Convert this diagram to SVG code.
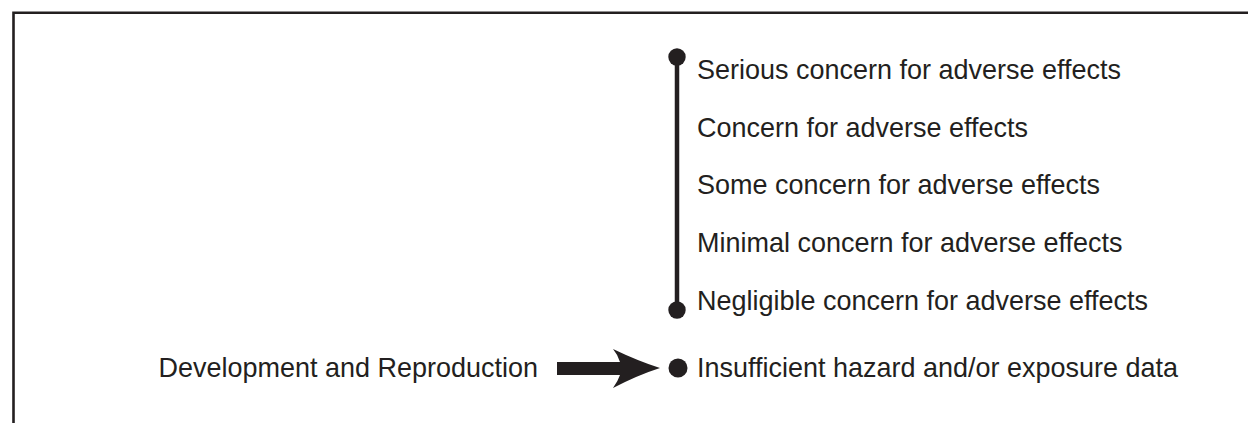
<svg xmlns="http://www.w3.org/2000/svg" width="1248" height="423" viewBox="0 0 1248 423">
<style>
.t{font-family:"Liberation Sans",Arial,sans-serif;font-size:28.5px;fill:#231f20}
.dot{fill:#231f20}
</style>
<rect width="1248" height="423" fill="#fff"/>
<g id="frame">
<path d="M13.5,423 V12.8 H1248" fill="none" stroke="#231f20" stroke-width="2.6"/>
</g>
<g id="connectors">
<line x1="677" y1="57" x2="677" y2="310" stroke="#231f20" stroke-width="4.5"/>
<path class="dot" d="M557,362 H620 Q618,355 613,349 Q638,361 660,368 Q638,375 613,388 Q618,381 620,375 H557 Z"/>
</g>
<g id="scale-top"><circle class="dot" cx="677" cy="57" r="8.7"/></g>
<g id="scale-bottom"><circle class="dot" cx="677" cy="310" r="8.7"/></g>
<g id="insufficient-dot"><circle class="dot" cx="678" cy="368" r="9.5"/></g>
<g id="serious" transform="translate(697,0) scale(0.947,1)"><text class="t" x="0" y="79">Serious concern for adverse effects</text></g>
<g id="concern" transform="translate(697,0) scale(0.947,1)"><text class="t" x="0" y="137">Concern for adverse effects</text></g>
<g id="some" transform="translate(697,0) scale(0.947,1)"><text class="t" x="0" y="194">Some concern for adverse effects</text></g>
<g id="minimal" transform="translate(697,0) scale(0.947,1)"><text class="t" x="0" y="252">Minimal concern for adverse effects</text></g>
<g id="negligible" transform="translate(697,0) scale(0.947,1)"><text class="t" x="0" y="310">Negligible concern for adverse effects</text></g>
<g id="insufficient" transform="translate(697,0) scale(0.947,1)"><text class="t" x="0" y="377">Insufficient hazard and/or exposure data</text></g>
<g id="dev-repro" transform="translate(158.5,0) scale(0.947,1)"><text class="t" x="0" y="377">Development and Reproduction</text></g>
</svg>
